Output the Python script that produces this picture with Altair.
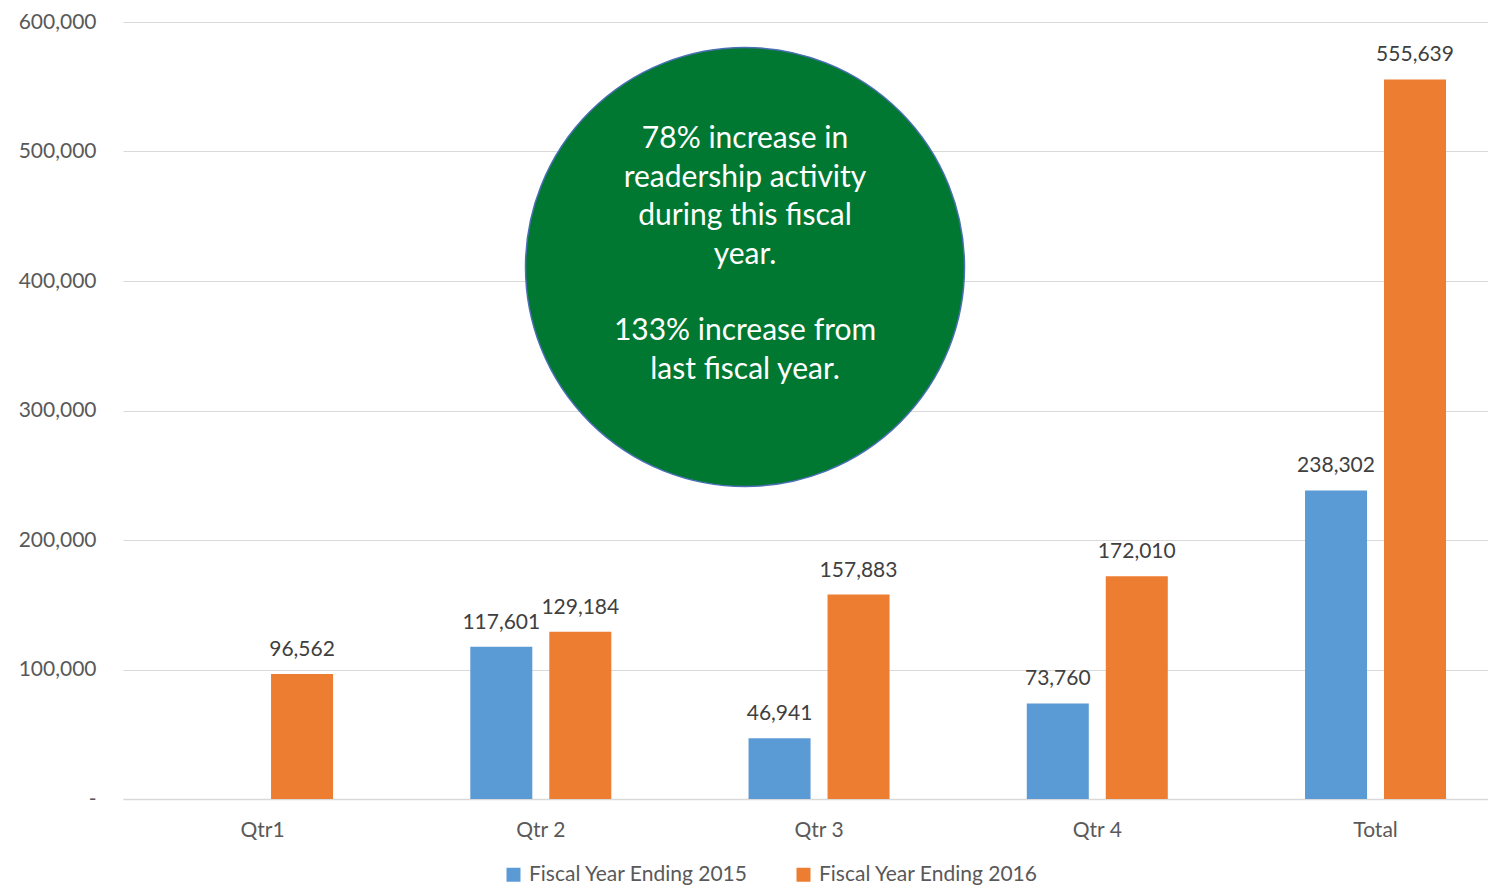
import altair as alt
import pandas as pd

categories = ["Qtr1", "Qtr 2", "Qtr 3", "Qtr 4", "Total"]
series_names = ["Fiscal Year Ending 2015", "Fiscal Year Ending 2016"]
fy2015 = [None, 117601, 46941, 73760, 238302]
fy2016 = [96562, 129184, 157883, 172010, 555639]
series_colors = ["#5B9BD5", "#ED7D31"]
y_ticks = [0, 100000, 200000, 300000, 400000, 500000, 600000]
note_para1 = ["78% increase in", "readership activity", "during this fiscal", "year."]
note_para2 = ["133% increase from", "last fiscal year."]

rows = []
for c, a, b in zip(categories, fy2015, fy2016):
    if a is not None:
        rows.append({"cat": c, "series": series_names[0], "value": a})
    rows.append({"cat": c, "series": series_names[1], "value": b})
df = pd.DataFrame(rows)

FONT = "Lato"

x_enc = alt.X("cat:N", sort=categories, title=None,
              scale=alt.Scale(paddingInner=0.4322, paddingOuter=0.169, align=0.644),
              axis=alt.Axis(labelAngle=0, ticks=False, domainColor="#D9D9D9", domainWidth=1.5,
                            labelFont=FONT, labelFontSize=21, labelColor="#595959", labelPadding=20))
xoff_enc = alt.XOffset("series:N", sort=series_names,
                       scale=alt.Scale(paddingInner=0.215, paddingOuter=0.1075))
y_enc = alt.Y("value:Q", title=None,
              scale=alt.Scale(domain=[0, 600000], nice=False),
              axis=alt.Axis(values=y_ticks, domain=False, ticks=False, gridColor="#D9D9D9",
                            labelFont=FONT, labelFontSize=21, labelColor="#595959", labelPadding=27,
                            labelExpr="datum.value == 0 ? '-' : format(datum.value, ',')"))

base = alt.Chart(df)
bars = base.mark_bar().encode(
    x=x_enc, xOffset=xoff_enc, y=y_enc,
    color=alt.Color("series:N", sort=series_names,
                    scale=alt.Scale(domain=series_names, range=series_colors),
                    legend=alt.Legend(title=None, orient="none", direction="horizontal",
                                      legendX=380, legendY=842, symbolType="square",
                                      symbolSize=196, symbolStrokeWidth=0, columnPadding=44,
                                      labelOffset=5,
                                      labelFont=FONT, labelFontSize=21, labelColor="#595959",
                                      labelLimit=400, symbolOffset=0)),
)
labels = base.mark_text(font=FONT, fontSize=21, color="#404040", baseline="alphabetic", dy=-18).encode(
    x=alt.X("cat:N", sort=categories), xOffset=alt.XOffset("series:N", sort=series_names), y="value:Q",
    text=alt.Text("value:Q", format=","),
)

note_df = pd.DataFrame({"p1": [note_para1], "p2": [note_para2]})
circle = alt.Chart(note_df).mark_point(shape="circle", filled=True, size=439 * 439, fill="#007832",
                                       stroke="#4A6FB5", strokeWidth=1.5, opacity=1).encode(
    x=alt.value(622), y=alt.value(245))
note1 = alt.Chart(note_df).mark_text(font=FONT, fontSize=30, color="white",
                                     lineHeight=38.5, align="center", baseline="middle").encode(
    x=alt.value(622), y=alt.value(117), text="p1")
note2 = alt.Chart(note_df).mark_text(font=FONT, fontSize=30, color="white",
                                     lineHeight=38.5, align="center", baseline="middle").encode(
    x=alt.value(622), y=alt.value(309), text="p2")

chart = alt.layer(bars, labels, circle, note1, note2).properties(
    width=1365, height=777,
    autosize=alt.AutoSizeParams(type="none"),
    padding={"left": 115, "top": 14, "right": 0, "bottom": 87},
).configure_view(stroke=None).configure_axis(grid=False).configure_axisY(grid=True)

chart.save("out.html", embed_options={"renderer": "svg", "actions": False})
